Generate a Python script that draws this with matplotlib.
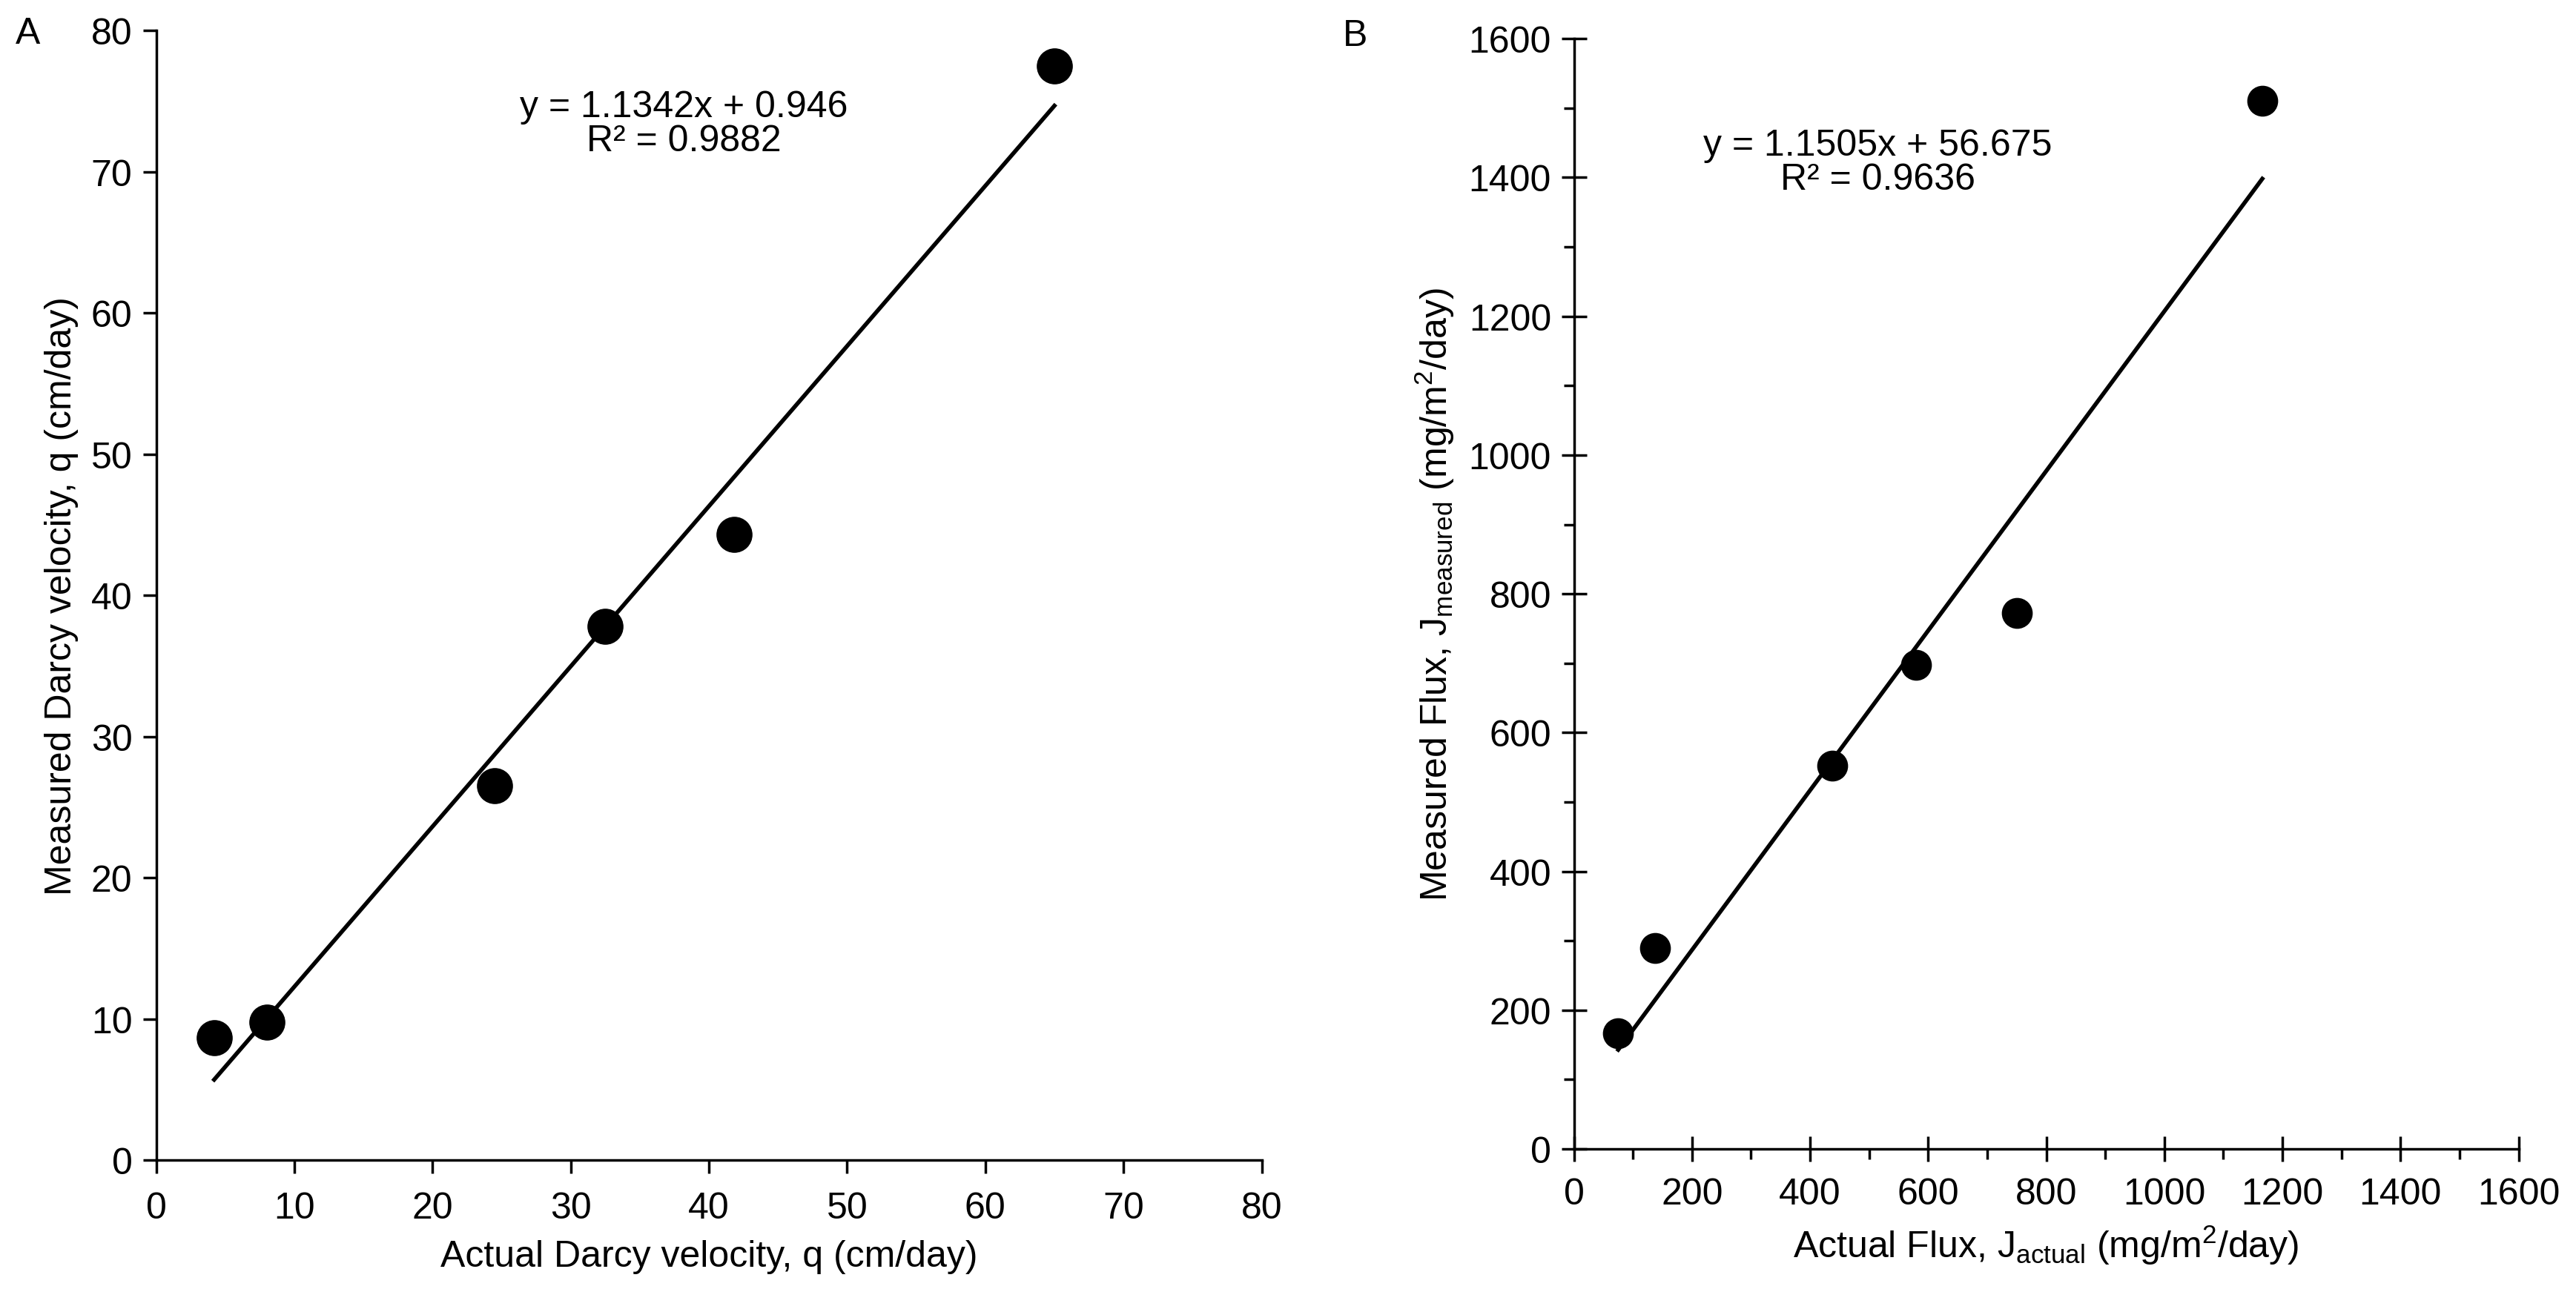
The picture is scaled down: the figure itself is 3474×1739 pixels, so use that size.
import numpy as np
import matplotlib
matplotlib.use("Agg")
import matplotlib.pyplot as plt

# ---- data ----
actual_q = [4.2, 8.0, 24.5, 32.5, 41.8, 65.0]
measured_q = [8.7, 9.8, 26.5, 37.8, 44.3, 77.5]
fit_q = (1.1342, 0.946)
eq_q = "y = 1.1342x + 0.946\nR² = 0.9882"

actual_J = [75, 138, 437, 579, 750, 1166]
measured_J = [167, 290, 552, 698, 772, 1511]
fit_J = (1.1505, 56.675)
eq_J = "y = 1.1505x + 56.675\nR² = 0.9636"

xticks_q = [0, 10, 20, 30, 40, 50, 60, 70, 80]
yticks_q = [0, 10, 20, 30, 40, 50, 60, 70, 80]
xticks_J = [0, 200, 400, 600, 800, 1000, 1200, 1400, 1600]
yticks_J = [0, 200, 400, 600, 800, 1000, 1200, 1400, 1600]

fam = "Liberation Sans"
plt.rcParams['font.family'] = [fam, 'DejaVu Sans']
plt.rcParams['mathtext.fontset'] = 'custom'
plt.rcParams['mathtext.rm'] = fam
plt.rcParams['mathtext.it'] = fam
plt.rcParams['mathtext.default'] = 'regular'

fig = plt.figure(figsize=(34.74, 17.40), dpi=100)
ax1 = fig.add_axes([0.0606, 0.0998, 0.4292, 0.876])
ax2 = fig.add_axes([0.611, 0.1086, 0.3667, 0.8608])

FS = 36
for ax in (ax1, ax2):
    ax.spines['top'].set_visible(False)
    ax.spines['right'].set_visible(False)
    for s in ('left', 'bottom'):
        ax.spines[s].set_linewidth(2.5)
    ax.tick_params(labelsize=FS, width=2.5, length=13, pad=10)

# Panel A
ax1.plot(actual_q, measured_q, linestyle='none', marker='o', markersize=34, color='black')
xs = np.array([min(actual_q), max(actual_q)])
ax1.plot(xs, fit_q[0]*xs + fit_q[1], color='black', lw=4)
ax1.set_xlim(0, 80); ax1.set_ylim(0, 80)
ax1.set_xticks(xticks_q); ax1.set_yticks(yticks_q)
ax1.tick_params(direction='out')
ax1.tick_params(axis='x', pad=17)
ax1.set_xlabel("Actual Darcy velocity, q (cm/day)", fontsize=FS, labelpad=14)
ax1.set_ylabel("Measured Darcy velocity, q (cm/day)", fontsize=FS, labelpad=12)
ax1.text(38.2, 73.4, eq_q, fontsize=FS, ha='center', va='center', multialignment='center', linespacing=1.0)

# Panel B
ax2.plot(actual_J, measured_J, linestyle='none', marker='o', markersize=29, color='black')
xs = np.array([min(actual_J), max(actual_J)])
ax2.plot(xs, fit_J[0]*xs + fit_J[1], color='black', lw=4)
ax2.set_xlim(0, 1600); ax2.set_ylim(0, 1600)
ax2.set_xticks(xticks_J); ax2.set_yticks(yticks_J)
ax2.set_xticks(np.arange(100, 1600, 200), minor=True)
ax2.set_yticks(np.arange(100, 1600, 200), minor=True)
ax2.tick_params(which='major', direction='inout', length=24)
ax2.tick_params(which='minor', direction='out', length=10, width=2.5)
ax2.tick_params(axis='x', which='major', pad=15)
ax2.set_xlabel("Actual Flux, J$_{actual}$ (mg/m$^{2}$/day)", fontsize=FS, labelpad=12)
ax2.set_ylabel("Measured Flux, J$_{measured}$ (mg/m$^{2}$/day)", fontsize=FS, labelpad=12)
ax2.text(515, 1422, eq_J, fontsize=FS, ha='center', va='center', multialignment='center', linespacing=1.0)

fig.text(21/3474, 1 - 46/1740, "A", fontsize=FS, ha='left', va='center')
fig.text(1811/3474, 1 - 49/1740, "B", fontsize=FS, ha='left', va='center')

fig.savefig("out.png", dpi=100, facecolor='white')
